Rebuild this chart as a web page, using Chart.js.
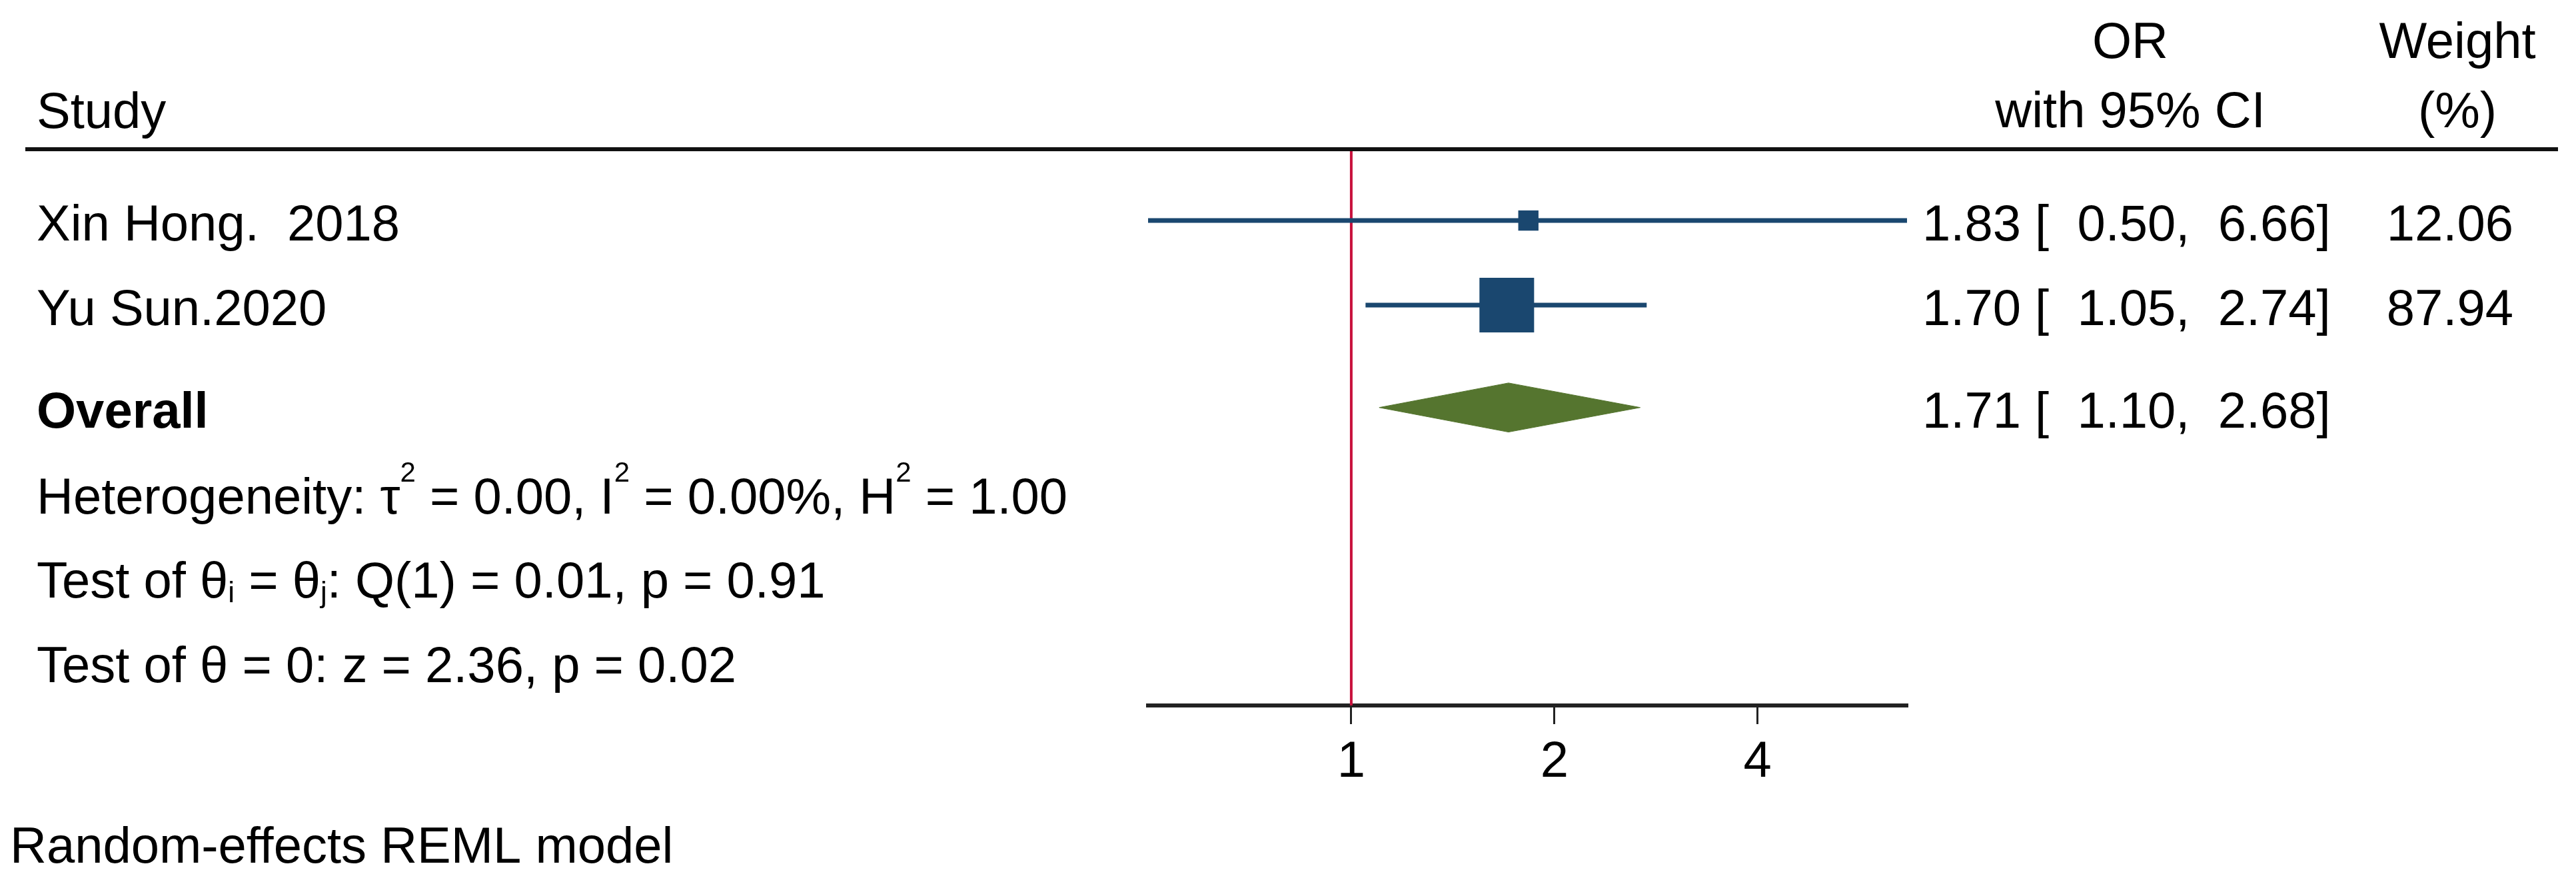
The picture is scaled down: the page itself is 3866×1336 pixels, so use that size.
<!DOCTYPE html>
<html>
<head>
<meta charset="utf-8">
<script src="https://cdn.jsdelivr.net/npm/chart.js@4.4.1/dist/chart.umd.min.js"></script>
<style>
    html, body { margin: 0; padding: 0; background: #fff; }
    #wrap { width: 3866px; height: 1336px; }
</style>
</head>
<body>
<div id="wrap"><canvas id="forest" width="3866" height="1336"></canvas></div>
<script>
// Data
const studies = ['Xin Hong.  2018', 'Yu Sun.2020'];
const oddsRatio = [1.83, 1.70];
const ciLow = [0.50, 1.05];
const ciHigh = [6.66, 2.74];
const weights = [12.06, 87.94];
const overallOR = 1.71;
const overallLow = 1.10;
const overallHigh = 2.68;
const xTicks = [1, 2, 4];

// Row positions (in row units, top to bottom)
const studyRows = [0, 1];
const overallRow = 2.21;
const statRows = [3.23, 4.22, 5.22];
const yTop = -0.843;
const yBottom = 5.732;

// Footer / stats text, split into runs so sub/superscripts can be drawn
const statLines = [
    [['Heterogeneity: τ'], ['2', 'sup'], [' = 0.00, I'], ['2', 'sup'], [' = 0.00%, H'], ['2', 'sup'], [' = 1.00']],
    [['Test of θ'], ['i', 'sub'], [' = θ'], ['j', 'sub'], [': Q(1) = 0.01, p = 0.91']],
    [['Test of θ = 0: z = 2.36, p = 0.02']]
];
const noteText = 'Random-effects REML model';

// Style
const FONT = '"Liberation Sans", Arial, Helvetica, sans-serif';
const FS = 76;
const NAVY = '#1a476f';
const GREEN = '#55752f';
const REF_RED = '#c8103c';
const INK = '#000';

const fmt = v => v.toFixed(2);
const ciText = (or, lo, hi) => `${fmt(or)} [${fmt(lo).padStart(6)},${fmt(hi).padStart(6)}]`;

function font(weight, size) {
    return `${weight} ${size}px ${FONT}`;
}

function drawRich(ctx, runs, x, y) {
    runs.forEach(([t, kind]) => {
        if (kind === 'sup') {
            ctx.font = font('normal', 42);
            ctx.fillText(t, x, y - 48);
        } else if (kind === 'sub') {
            ctx.font = font('normal', 44);
            ctx.fillText(t, x, y + 7);
        } else {
            ctx.font = font('normal', FS);
            ctx.fillText(t, x, y);
        }
        x += ctx.measureText(t).width;
    });
}

// Text, header rule and columns
const tablePlugin = {
    id: 'forestTable',
    afterDraw(chart) {
        const ctx = chart.ctx;
        const ys = chart.scales.y;
        const area = chart.chartArea;
        const base = row => ys.getPixelForValue(row) + 30;

        ctx.save();

        // header rule
        ctx.strokeStyle = '#111';
        ctx.lineWidth = 6;
        ctx.beginPath();
        ctx.moveTo(38, area.top);
        ctx.lineTo(3839, area.top);
        ctx.stroke();

        ctx.fillStyle = INK;
        ctx.textBaseline = 'alphabetic';
        ctx.font = font('normal', FS);

        // headers
        ctx.textAlign = 'left';
        ctx.fillText('Study', 55, 192);
        ctx.textAlign = 'center';
        ctx.fillText('OR', 3197, 87);
        ctx.fillText('with 95% CI', 3197, 191);
        ctx.fillText('Weight', 3688, 87);
        ctx.fillText('(%)', 3688, 191);

        // study rows
        studies.forEach((name, i) => {
            const y = base(studyRows[i]);
            ctx.textAlign = 'left';
            ctx.fillText(name, 55, y);
            ctx.fillText(ciText(oddsRatio[i], ciLow[i], ciHigh[i]), 2885, y);
            ctx.textAlign = 'right';
            ctx.fillText(fmt(weights[i]), 3772, y);
        });

        // overall row
        const oy = base(overallRow);
        ctx.textAlign = 'left';
        ctx.font = font('bold', FS);
        ctx.fillText('Overall', 55, oy);
        ctx.font = font('normal', FS);
        ctx.fillText(ciText(overallOR, overallLow, overallHigh), 2885, oy);

        // statistics
        statLines.forEach((runs, i) => drawRich(ctx, runs, 55, base(statRows[i])));

        // note
        ctx.font = font('normal', FS);
        ctx.fillText(noteText, 15, 1295);

        ctx.restore();
    }
};

// Datasets
const maxW = Math.max(...weights);
const datasets = [];

// line of no effect
datasets.push({
    data: [{ x: 1, y: yTop }, { x: 1, y: yBottom }],
    borderColor: REF_RED,
    borderWidth: 4,
    pointRadius: 0,
    order: 2
});

// confidence intervals
studies.forEach((s, i) => {
    datasets.push({
        data: [{ x: ciLow[i], y: studyRows[i] }, { x: ciHigh[i], y: studyRows[i] }],
        borderColor: NAVY,
        borderWidth: 7,
        pointRadius: 0,
        order: 1
    });
});

// study estimates, square area ~ weight
datasets.push({
    data: oddsRatio.map((v, i) => ({ x: v, y: studyRows[i] })),
    showLine: false,
    pointStyle: 'rect',
    pointRadius: weights.map(w => 58 * Math.sqrt(w / maxW)),
    pointBackgroundColor: NAVY,
    pointBorderWidth: 0,
    order: 0
});

// overall diamond
datasets.push({
    data: [
        { x: overallLow, y: overallRow },
        { x: overallOR, y: overallRow - 0.29 },
        { x: overallHigh, y: overallRow },
        { x: overallOR, y: overallRow + 0.29 },
        { x: overallLow, y: overallRow }
    ],
    borderColor: GREEN,
    backgroundColor: GREEN,
    borderWidth: 1,
    pointRadius: 0,
    fill: 'shape',
    order: 0
});

const chart = new Chart(document.getElementById('forest'), {
    type: 'line',
    data: { datasets },
    options: {
        responsive: false,
        animation: false,
        events: [],
        layout: { padding: { left: 1723, right: 1004, top: 224, bottom: 0 } },
        plugins: {
            legend: { display: false },
            tooltip: { enabled: false }
        },
        scales: {
            x: {
                type: 'logarithmic',
                min: Math.min(...ciLow),
                max: Math.max(...ciHigh),
                afterBuildTicks: s => { s.ticks = xTicks.map(v => ({ value: v })); },
                afterFit: s => { s.height = 277; },
                ticks: {
                    autoSkip: false,
                    maxRotation: 0,
                    color: INK,
                    padding: 12,
                    font: { family: FONT, size: FS },
                    callback: v => String(v)
                },
                grid: {
                    drawOnChartArea: false,
                    drawTicks: true,
                    tickLength: 28,
                    lineWidth: 3,
                    color: '#222'
                },
                border: { display: true, color: '#222', width: 6 }
            },
            y: {
                type: 'linear',
                reverse: true,
                min: yTop,
                max: yBottom,
                display: false
            }
        }
    },
    plugins: [tablePlugin]
});
</script>
</body>
</html>
